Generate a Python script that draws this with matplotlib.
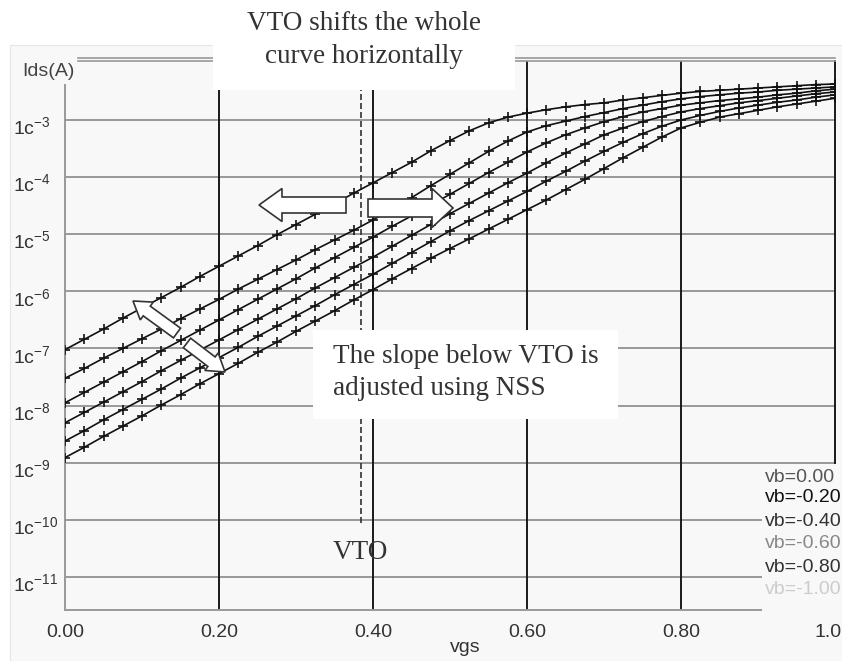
import numpy as np
import matplotlib
matplotlib.use('Agg')
import matplotlib.pyplot as plt
import matplotlib.transforms as mtransforms
from matplotlib.patches import Rectangle, FancyArrow
from matplotlib.lines import Line2D
from matplotlib.ticker import NullLocator

plt.rcParams['font.family'] = ['Liberation Sans', 'DejaVu Sans']
plt.rcParams['mathtext.fontset'] = 'custom'
plt.rcParams['mathtext.rm'] = 'Liberation Sans'

# gate sweep (V) and log10(Ids), one list per body bias
vgs = np.linspace(0.0, 1.0, 41)

log_ids_vb_000 = [-7.02, -6.84, -6.66, -6.47, -6.29, -6.11, -5.93, -5.74, -5.56, -5.38,
                  -5.20, -5.01, -4.83, -4.65, -4.47, -4.28, -4.10, -3.92, -3.74, -3.54,
                  -3.36, -3.19, -3.05, -2.95, -2.88, -2.82, -2.77, -2.73, -2.70, -2.65,
                  -2.61, -2.57, -2.53, -2.50, -2.48, -2.46, -2.44, -2.42, -2.40, -2.38, -2.37]
log_ids_vb_020 = [-7.52, -7.35, -7.17, -7.00, -6.83, -6.66, -6.48, -6.31, -6.14, -5.96,
                  -5.79, -5.62, -5.45, -5.27, -5.10, -4.93, -4.75, -4.55, -4.36, -4.15,
                  -3.95, -3.75, -3.55, -3.37, -3.21, -3.10, -3.02, -2.94, -2.87, -2.80,
                  -2.74, -2.68, -2.63, -2.59, -2.56, -2.53, -2.51, -2.48, -2.46, -2.44, -2.42]
log_ids_vb_040 = [-7.95, -7.77, -7.59, -7.41, -7.23, -7.04, -6.86, -6.68, -6.50, -6.32,
                  -6.14, -5.96, -5.78, -5.59, -5.41, -5.23, -5.05, -4.86, -4.68, -4.49,
                  -4.30, -4.11, -3.92, -3.74, -3.56, -3.40, -3.26, -3.14, -3.03, -2.94,
                  -2.86, -2.80, -2.74, -2.70, -2.66, -2.63, -2.60, -2.56, -2.53, -2.49, -2.46]
log_ids_vb_060 = [-8.30, -8.12, -7.94, -7.76, -7.58, -7.39, -7.21, -7.03, -6.85, -6.67,
                  -6.49, -6.31, -6.13, -5.94, -5.76, -5.58, -5.40, -5.21, -5.02, -4.83,
                  -4.64, -4.46, -4.28, -4.10, -3.93, -3.75, -3.58, -3.42, -3.26, -3.14,
                  -3.03, -2.94, -2.86, -2.80, -2.75, -2.70, -2.66, -2.62, -2.58, -2.54, -2.51]
log_ids_vb_080 = [-8.62, -8.44, -8.25, -8.07, -7.89, -7.71, -7.52, -7.34, -7.16, -6.98,
                  -6.79, -6.61, -6.43, -6.25, -6.06, -5.88, -5.70, -5.51, -5.32, -5.13,
                  -4.94, -4.76, -4.59, -4.42, -4.25, -4.07, -3.90, -3.72, -3.55, -3.39,
                  -3.24, -3.11, -3.00, -2.92, -2.85, -2.79, -2.74, -2.69, -2.65, -2.60, -2.56]
log_ids_vb_100 = [-8.91, -8.73, -8.54, -8.36, -8.18, -7.99, -7.81, -7.62, -7.44, -7.26,
                  -7.07, -6.89, -6.70, -6.52, -6.34, -6.15, -5.97, -5.78, -5.60, -5.42,
                  -5.25, -5.08, -4.91, -4.74, -4.57, -4.40, -4.22, -4.04, -3.85, -3.66,
                  -3.48, -3.30, -3.14, -3.04, -2.95, -2.89, -2.83, -2.77, -2.72, -2.67, -2.62]

legend_labels = ['vb=0.00', 'vb=-0.20', 'vb=-0.40', 'vb=-0.60', 'vb=-0.80', 'vb=-1.00']
legend_colors = ['#555555', '#111111', '#333333', '#888888', '#333333', '#cccccc']
x_ticks = [0.0, 0.2, 0.4, 0.6, 0.8, 1.0]
x_tick_labels = ['0.00', '0.20', '0.40', '0.60', '0.80', '1.0']
decades = [-3, -4, -5, -6, -7, -8, -9, -10, -11]
vto = 0.384

W, H = 842, 661
fig = plt.figure(figsize=(W / 100, H / 100), dpi=100)
fig.patch.set_facecolor('white')
# pixel coords, origin top-left
px = mtransforms.Affine2D().scale(1 / W, -1 / H).translate(0, 1) + fig.transFigure

panel_c = '#f8f8f8'
fig.add_artist(Rectangle((10, 45), W - 10, H - 45, transform=px, facecolor=panel_c,
                         edgecolor='#e6e6e6', lw=0.8, zorder=-1))

ax = fig.add_axes([65 / W, 1 - 610 / H, 770 / W, 549 / H])
ax.set_facecolor(panel_c)
ax.set_yscale('log')
ax.set_xlim(0, 1)
ax.set_ylim(10 ** -11.578, 10 ** -1.967)

for e in decades:
    ax.axhline(10.0 ** e, color='#999999', lw=1.4, zorder=1)
for x in x_ticks[1:-1]:
    ax.axvline(x, color='#1a1a1a', lw=1.4, zorder=1)

curves = [log_ids_vb_000, log_ids_vb_020, log_ids_vb_040,
          log_ids_vb_060, log_ids_vb_080, log_ids_vb_100]
for vals in curves:
    ax.plot(vgs, 10.0 ** np.array(vals), color='#111111', lw=1.2,
            marker='+', ms=6.5, mew=1.2, zorder=3)

# VTO marker line
ax.plot([vto, vto], [10 ** -10.05, 10 ** -1.967], color='#333333', lw=1.2,
        dashes=(3.6, 1.8), zorder=2)

ax.spines['top'].set_visible(False)
ax.spines['right'].set_color('#1a1a1a')
ax.spines['right'].set_linewidth(1.4)
ax.spines['bottom'].set_color('#999999')
ax.spines['bottom'].set_linewidth(1.4)
ax.spines['left'].set_color('#999999')
ax.spines['left'].set_linewidth(1.4)
ax.spines['left'].set_bounds(10 ** -11.578, 10 ** (-3 + 35 / 57.125))

ax.yaxis.set_major_locator(NullLocator())
ax.yaxis.set_minor_locator(NullLocator())
ax.set_xticks(x_ticks, x_tick_labels)
ax.tick_params(axis='x', length=0, pad=10, labelsize=14, labelcolor='#333333')
# last label sits at the right edge of the window
last = ax.get_xticklabels()[-1]
last.set_ha('right')
last.set_x(1.0)
last.set_transform(last.get_transform() +
                   mtransforms.ScaledTranslation(0.065, 0, fig.dpi_scale_trans))

ylab_tr = mtransforms.blended_transform_factory(ax.transAxes, ax.transData) + \
    mtransforms.ScaledTranslation(0, -0.08, fig.dpi_scale_trans)
for e in decades:
    ax.text(-0.0675, 10.0 ** e, '1c$^{\\mathregular{%d}}$' % e, transform=ylab_tr,
            ha='left', va='center', fontsize=14, color='#333333', clip_on=False)

# double line on top of the plot frame
for yy in (58, 61):
    fig.add_artist(Line2D([78, 835], [yy, yy], transform=px, color='#999999', lw=1.2))

fig.text(22, 71, 'Ids(A)', transform=px, ha='left', va='center', fontsize=14, color='#444444')
fig.text(465, 648, 'vgs', transform=px, ha='center', va='center', fontsize=14, color='#333333')

# legend block at the lower right
fig.add_artist(Rectangle((762, 464), 80, 150, transform=px, facecolor=panel_c,
                         edgecolor='none', zorder=1))
legend_y = [477, 498, 521, 544, 567, 589]
for lab, col, yy in zip(legend_labels, legend_colors, legend_y):
    fig.text(765, yy, lab, transform=px, ha='left', va='center', fontsize=14,
             color=col, zorder=2)

# annotation boxes
serif = 'Liberation Serif'
fig.add_artist(Rectangle((213, 0), 302, 90, transform=px, facecolor='white',
                         edgecolor='none', zorder=2))
fig.text(364, 30, 'VTO shifts the whole', transform=px, ha='center', va='baseline',
         family=serif, fontsize=19.5, color='#333333', zorder=3)
fig.text(364, 63, 'curve horizontally', transform=px, ha='center', va='baseline',
         family=serif, fontsize=19.5, color='#333333', zorder=3)

fig.add_artist(Rectangle((313, 330), 305, 89, transform=px, facecolor='white',
                         edgecolor='none', zorder=2))
fig.text(333, 363, 'The slope below VTO is', transform=px, ha='left', va='baseline',
         family=serif, fontsize=19.5, color='#333333', zorder=3)
fig.text(333, 395, 'adjusted using NSS', transform=px, ha='left', va='baseline',
         family=serif, fontsize=19.5, color='#333333', zorder=3)
fig.text(333, 559, 'VTO', transform=px, ha='left', va='baseline',
         family=serif, fontsize=19.5, color='#333333', zorder=3)

# block arrows
arrows = [
    (346, 205, -87, 0, 16, 33, 23),
    (368, 208, 85, 0, 18, 39, 21),
    (177, 333, -44, -32, 12, 22, 17),
    (187, 343, 38, 29, 12, 22, 17),
]
for x0, y0, dx, dy, w, hw, hl in arrows:
    fig.add_artist(FancyArrow(x0, y0, dx, dy, width=w, head_width=hw, head_length=hl,
                              length_includes_head=True, transform=px,
                              facecolor='white', edgecolor='#333333', lw=1.2, zorder=4))

fig.savefig('out.png', dpi=100)
